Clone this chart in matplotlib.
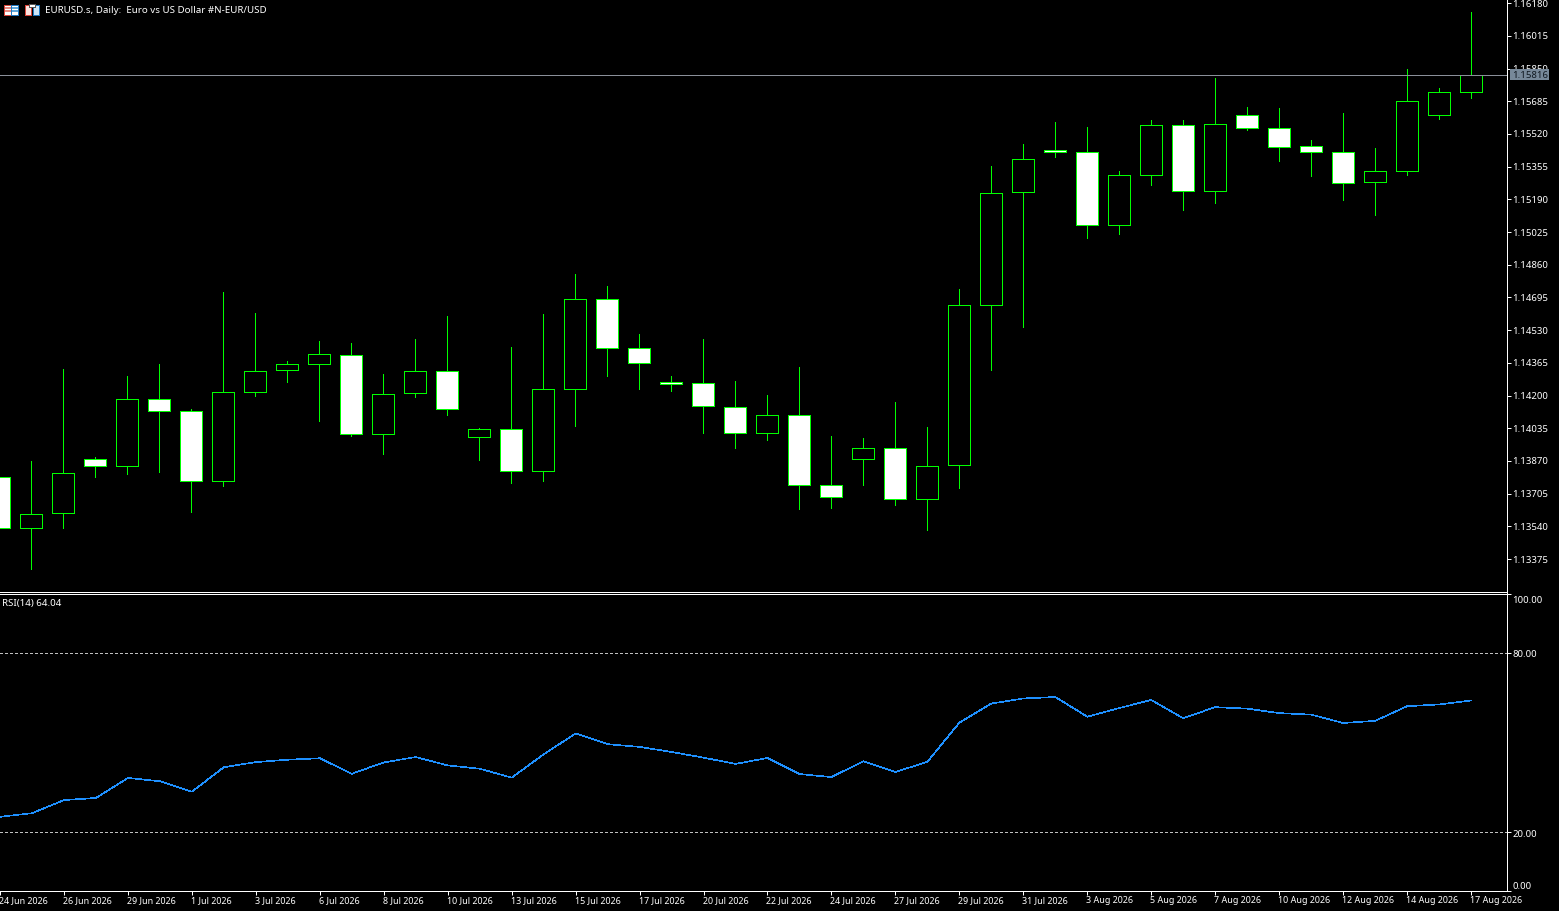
import numpy as np
import matplotlib
matplotlib.use("Agg")
import matplotlib.pyplot as plt
from matplotlib.patches import Rectangle
from matplotlib.transforms import ScaledTranslation

# ---------- data (prices in 1e-5 points) ----------
opens = [113789,113532,113608,113880,113843,114183,114122,113769,114216,114329,114359,114405,114006,114213,114324,113991,
         114031,113819,114233,114687,114440,114269,114264,114142,114011,114102,113749,113880,113936,113678,113850,114657,
         115227,115439,115429,115061,115313,115565,115232,115616,115550,115459,115429,115278,115333,115616,115732]
highs = [113789,113871,114336,113892,114300,114361,114134,114724,114618,114376,114477,114467,114311,114487,114603,114038,
         114447,114613,114815,114754,114512,114300,114487,114275,114204,114346,113998,113988,114169,114043,114739,115360,
         115471,115582,115557,115335,115592,115592,115804,115658,115653,115491,115627,115451,115849,115754,116137]
lows = [113532,113323,113530,113787,113802,113812,113611,113742,114196,114267,114070,113994,113903,114191,114100,113873,
        113757,113767,114045,114297,114231,114221,114009,113934,113974,113626,113631,113747,113646,113520,113732,114327,
        114544,115402,114993,115013,115261,115135,115170,115538,115382,115306,115185,115109,115311,115594,115700]
closes = [113532,113602,113809,113843,114183,114120,113769,114218,114324,114359,114410,114006,114208,114324,114132,114031,
          113819,114233,114687,114440,114364,114258,114147,114011,114102,113749,113688,113936,113678,113845,114657,115222,
          115394,115429,115061,115313,115565,115232,115570,115550,115452,115429,115273,115333,115686,115732,115816]
rsi = [25.1,26.3,30.7,31.4,38.1,37.0,33.5,41.7,43.4,44.2,44.7,39.5,43.3,45.1,42.3,41.2,38.2,46.0,53.0,49.4,48.5,46.8,44.9,
       42.8,44.8,39.4,38.4,43.7,40.1,43.5,56.6,63.0,64.7,65.2,58.6,61.5,64.2,58.1,61.8,61.3,59.8,59.3,56.5,57.2,62.1,62.7,64.04]
date_labels = ["24 Jun 2026","26 Jun 2026","29 Jun 2026","1 Jul 2026","3 Jul 2026","6 Jul 2026","8 Jul 2026","10 Jul 2026",
               "13 Jul 2026","15 Jul 2026","17 Jul 2026","20 Jul 2026","22 Jul 2026","24 Jul 2026","27 Jul 2026","29 Jul 2026",
               "31 Jul 2026","3 Aug 2026","5 Aug 2026","7 Aug 2026","10 Aug 2026","12 Aug 2026","14 Aug 2026","17 Aug 2026"]
price_ticks = [1.16180,1.16015,1.15850,1.15685,1.15520,1.15355,1.15190,1.15025,1.14860,
               1.14695,1.14530,1.14365,1.14200,1.14035,1.13870,1.13705,1.13540,1.13375]
last_price = 1.15816
rsi_levels = [80, 20]
title = "EURUSD.s, Daily:  Euro vs US Dollar #N-EUR/USD"
rsi_title = "RSI(14) 64.04"

# ---------- style ----------
W, H = 1559, 912
FONT = "Noto Sans"
FS = 6.9
FS_DATE = 6.45
GREEN = "#00FF00"
LW = 0.72
plt.rcParams.update({"font.family": FONT, "font.size": FS, "text.color": "white",
                     "axes.facecolor": "black", "figure.facecolor": "black"})

fig = plt.figure(figsize=(W/100, H/100), dpi=100)
PANE_R = 1507
MAIN_B = 592
RSI_T, RSI_B = 595, 892

def box(top, bottom):
    return [0, 1-bottom/H, PANE_R/W, (bottom-top)/H]

def nudge(label, dx_px=0, dy_px=0):
    # dy_px > 0 moves the label up on the image
    label.set_transform(label.get_transform() + ScaledTranslation(dx_px/100, dy_px/100, fig.dpi_scale_trans))

ax = fig.add_axes(box(0, MAIN_B))
ax2 = fig.add_axes(box(RSI_T, RSI_B))

o, h, l, c = [np.array(v)/1e5 for v in (opens, highs, lows, closes)]
xs = np.arange(len(o))

# bar i sits at pixel -1 + 32*i
xlim = (1/32, (PANE_R+1)/32)
for a in (ax, ax2):
    a.set_xlim(*xlim)
    a.set_facecolor("black")
    for s in ("top", "left"):
        a.spines[s].set_visible(False)
    for s in ("right", "bottom"):
        a.spines[s].set_color("white")
        a.spines[s].set_linewidth(LW)
        a.spines[s].set_antialiased(False)
ax.spines["bottom"].set_visible(False)

# price pane
ax.set_ylim(1.132105+3.5e-5, 1.161977+3.5e-5)
ax.vlines(xs, l, h, colors=GREEN, linewidth=0.5, antialiased=False, zorder=2)
top = np.maximum(o, c)
bot = np.minimum(o, c)
face = ["white" if cc < oo else "black" for oo, cc in zip(o, c)]
ax.bar(xs, top-bot, bottom=bot, width=21.5/32, color=face, edgecolor=GREEN,
       linewidth=LW, antialiased=False, zorder=3)
ax.axhline(last_price, color="#8A8F99", linewidth=0.5, antialiased=False, zorder=4)
ax.set_xticks([])
ax.yaxis.tick_right()
ax.set_yticks(price_ticks)
ax.set_yticklabels([f"{p:.5f}" for p in price_ticks])
ax.tick_params(axis="y", colors="white", length=2.9, width=LW, pad=1.0, labelsize=FS)
for lb in ax.get_yticklabels():
    nudge(lb, dy_px=1)

# RSI pane (pixel scale 2.988 per RSI point)
y2v = lambda y: (892.8-y)/2.988
ax2.set_ylim(y2v(RSI_B), y2v(RSI_T))
ax2.plot(xs, rsi, color="#1E90FF", linewidth=0.45, antialiased=False, zorder=3)
for lev in rsi_levels:
    ax2.axhline(lev, color="#C0C0C0", linewidth=0.5, linestyle=(0, (4, 4)), antialiased=False, zorder=2)
ax2.yaxis.tick_right()
ax2.set_yticks([y2v(RSI_T), 80, 20, y2v(RSI_B)])
ax2.set_yticklabels(["100.00", "80.00", "20.00", "0.00"])
ax2.tick_params(axis="y", colors="white", length=2.9, width=LW, pad=1.0, labelsize=FS)
lbls = ax2.get_yticklabels()
lbls[0].set_va("top")
lbls[-1].set_va("bottom")
nudge(lbls[0], dy_px=-1)
nudge(lbls[-1], dy_px=1)
ax2.set_xticks(xs[::2])
ax2.set_xticklabels(date_labels, ha="left")
ax2.tick_params(axis="x", colors="white", length=2.9, width=LW, pad=0.3, labelsize=FS_DATE)
for lb in ax2.get_xticklabels():
    nudge(lb, dx_px=-1)

# overlay in pixel coordinates: separator, icons, captions, price tag
ov = fig.add_axes([0, 0, 1, 1], zorder=10)
ov.set_xlim(0, W)
ov.set_ylim(H, 0)
ov.axis("off")
ov.patch.set_alpha(0)
for y in (592.5, 594.5):
    ov.plot([0, PANE_R], [y, y], color="white", linewidth=0.5, antialiased=False)
ov.plot([PANE_R+0.3]*2, [0, 595], color="white", linewidth=0.5, antialiased=False)

def rect(x, y, w, hh, fc, ec=None):
    ov.add_patch(Rectangle((x, y), w, hh, facecolor=fc, edgecolor=ec or fc, linewidth=LW if ec else 0, antialiased=False))

# table icon
rect(4.5, 5.5, 7, 10, "white", "#D9453A")
rect(11.5, 5.5, 7, 10, "white", "#1F77C0")
for yy in (8, 11):
    rect(5, yy, 6, 2, "#E8897F")
    rect(12, yy, 6, 2, "#5FA8DC")
# layout icon
rect(25.5, 5.5, 6, 10, "#FBE3DF", "#D9453A")
rect(33.5, 5.5, 6, 10, "#CDE6F7", "#1F77C0")
rect(29.5, 4.5, 6, 3, "white", "#555555")

ov.text(45, 10.5, title, ha="left", va="center", color="white", fontsize=7.0)
ov.text(2, 603.5, rsi_title, ha="left", va="center", color="white", fontsize=7.0)

rect(1510, 70, 39, 11, "#778899")
ov.text(1512.5, 75.2, f"{last_price:.5f}", ha="left", va="center", color="#101820", fontsize=FS)

fig.savefig("out.png", dpi=100, facecolor="black")
